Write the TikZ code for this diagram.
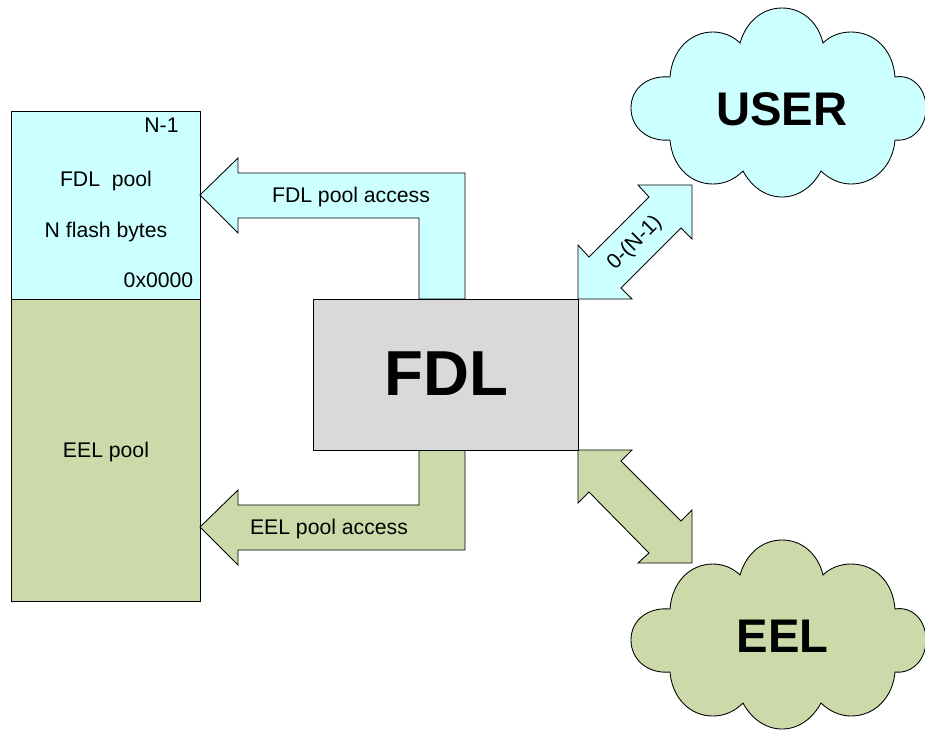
\documentclass[tikz,border=0pt]{standalone}
\usepackage{fontspec}
\setmainfont{Liberation Sans}
\definecolor{poolcyan}{HTML}{CCFFFF}
\definecolor{poolgreen}{HTML}{CCDAAA}
\definecolor{fdlgrey}{HTML}{D9D9D9}
\newcommand{\cloudoutline}{
    (670,77) .. controls (648,75) and (631,88) .. (631,108)
    .. controls (631,128) and (648,142) .. (670,140)
    .. controls (672,165) and (689,184) .. (713,184)
    .. controls (725,184) and (735,179) .. (743,171)
    .. controls (751,186) and (765,197) .. (782,197)
    .. controls (799,197) and (813,186) .. (821,171)
    .. controls (829,179) and (840,184) .. (851,184)
    .. controls (875,184) and (893,165) .. (895,140)
    .. controls (912,142) and (926,128) .. (926,108)
    .. controls (926,88) and (912,74) .. (895,77)
    .. controls (893,50) and (875,32) .. (851,32)
    .. controls (840,32) and (830,36) .. (823,43)
    .. controls (818,22) and (802,8) .. (782,8)
    .. controls (762,8) and (746,22) .. (740,43)
    .. controls (733,36) and (723,32) .. (713,32)
    .. controls (690,32) and (672,50) .. (670,77) -- cycle}
\begin{document}
\begin{tikzpicture}[x=0.75pt,y=-0.75pt,
    outline/.style={draw=black,line width=0.65pt,line join=miter},
    small/.style={font=\fontsize{15.9pt}{18pt}\selectfont,inner sep=0pt,anchor=base},
    large/.style={font=\fontsize{35.4pt}{40pt}\selectfont\bfseries,inner sep=0pt,anchor=base}]
    \useasboundingbox (0,0) rectangle (925,729);
    \draw[outline,fill=poolcyan] \cloudoutline;
    \draw[outline,fill=poolgreen,shift={(0,532)}] \cloudoutline;
    \draw[outline,fill=poolcyan] (11,111) rectangle (200,299);
    \draw[outline,fill=poolgreen] (11,299) rectangle (200,601);
    \draw[outline,fill=poolcyan] (419,299) -- (419,218) -- (238,218) -- (238,233) -- (200,195)
        -- (238,158) -- (238,173) -- (465,173) -- (465,299) -- cycle;
    \draw[outline,fill=poolgreen] (419,450) -- (419,505) -- (238,505) -- (238,490) -- (200,527)
        -- (238,565) -- (238,550) -- (465,550) -- (465,450) -- cycle;
    \draw[outline,fill=poolcyan] (578,299) -- (578,245) -- (589,257) -- (649,197) -- (638,185)
        -- (692,185) -- (692,239) -- (681,228) -- (621,288) -- (632,299) -- cycle;
    \draw[outline,fill=poolgreen] (578,450) -- (632,450) -- (621,461) -- (681,521) -- (692,510)
        -- (692,563) -- (638,563) -- (649,553) -- (589,492) -- (578,503) -- cycle;
    \draw[outline,fill=fdlgrey] (313,299) rectangle (578,450);
    \node[small] (top) at (161.5,132) {N-1};
    \node[small] (fdlpool) at (106,186) {FDL\ \ pool};
    \node[small] (bytes) at (106,237) {N flash bytes};
    \node[small] (bottom) at (158.5,287) {0x0000};
    \node[small] (eelpool) at (106,457) {EEL pool};
    \node[small] (fdlaccess) at (351,202) {FDL pool access};
    \node[small] (eelaccess) at (329,534) {EEL pool access};
    \node[small,anchor=center,rotate=45] (range) at (635,243) {0-(N-1)};
    \node[large,font=\fontsize{47.7pt}{50pt}\selectfont\bfseries] (fdl) at (446.5,395) {FDL};
    \node[large] (user) at (782,125) {USER};
    \node[large] (eel) at (782.5,652) {EEL};
\end{tikzpicture}
\end{document}
